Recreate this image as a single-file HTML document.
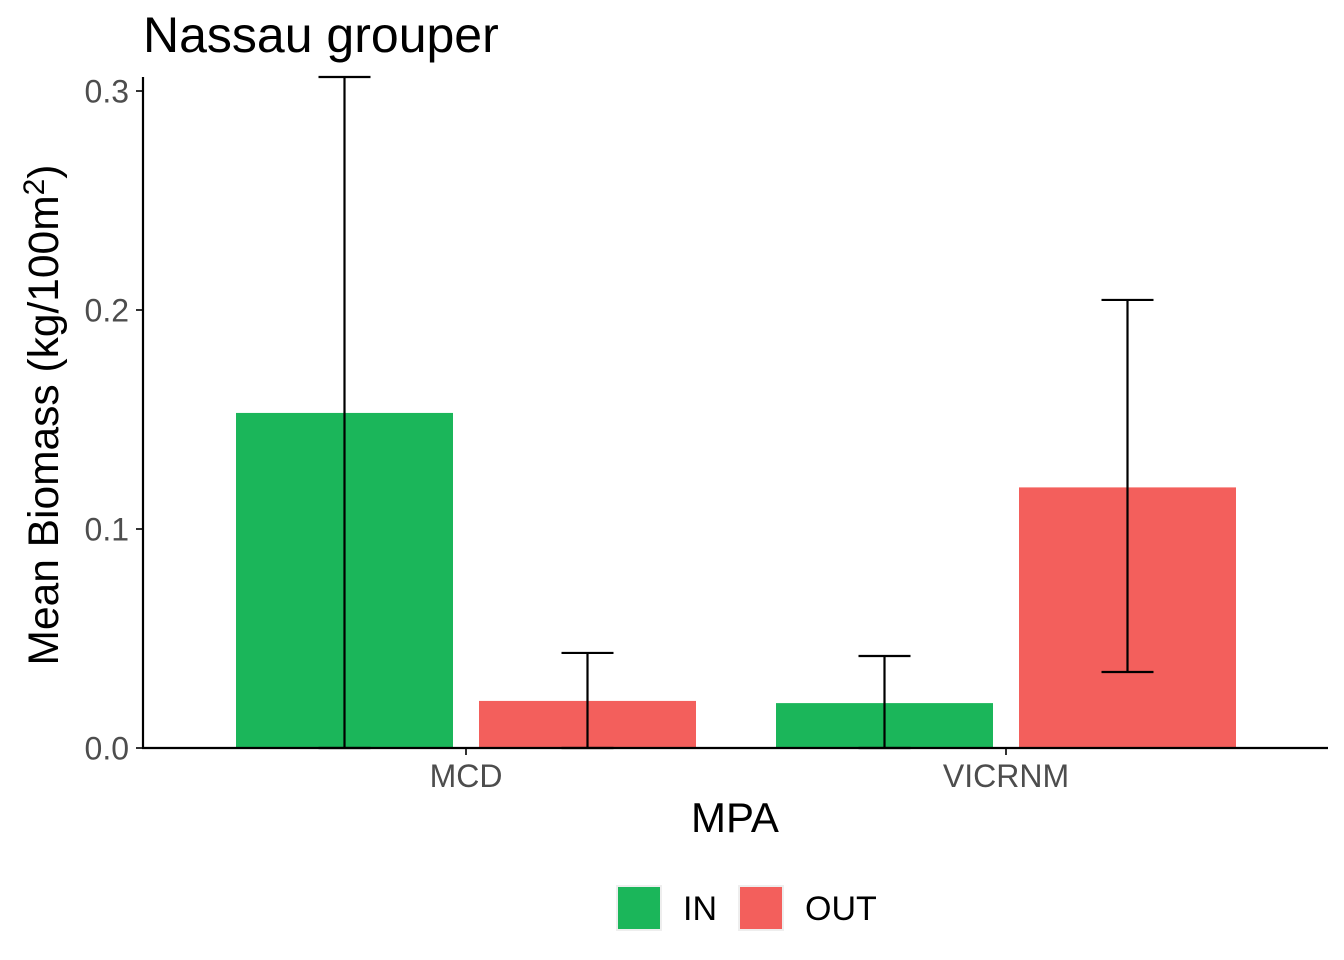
<!DOCTYPE html>
<html><head><meta charset="utf-8"><style>
body{margin:0;background:#fff;}
svg{display:block;font-family:"Liberation Sans",Arial,sans-serif;}
</style></head><body>
<svg id="chart" width="1344" height="960" viewBox="0 0 1344 960" xmlns="http://www.w3.org/2000/svg">
<text x="143" y="52" font-size="50" fill="#000">Nassau grouper</text>
<g id="bars"></g>
<g id="errs"></g>
<g id="axes"></g>
<text transform="translate(58,415) rotate(-90)" text-anchor="middle" font-size="42.5" fill="#000">Mean Biomass (kg/100m<tspan dy="-14" font-size="30">2</tspan><tspan dy="14">)</tspan></text>
<text x="735" y="832" text-anchor="middle" font-size="42" fill="#000">MPA</text>
<g>
<rect x="617" y="886" width="44" height="44" fill="#1BB65A" stroke="#eeeeee" stroke-width="2"/>
<text x="683" y="920" font-size="34">IN</text>
<rect x="739" y="886" width="44" height="44" fill="#F35F5C" stroke="#eeeeee" stroke-width="2"/>
<text x="805" y="920" font-size="34">OUT</text>
</g>
</svg>
<script>
const categories=["MCD","VICRNM"];
const groups=["IN","OUT"];
const inValues=[0.153,0.0205];
const outValues=[0.0215,0.119];
const inUpper=[0.3064,0.042];
const inLower=[0,0];
const outUpper=[0.0434,0.2046];
const outLower=[0,0.0347];
const yTicks=[0,0.1,0.2,0.3];
const yTickLabels=["0.0","0.1","0.2","0.3"];

const NS="http://www.w3.org/2000/svg";
const x0=143,x1=1328,yBase=748,yTop=77,yMax=0.3064;
function y(v){return yBase-(v/yMax)*(yBase-yTop);}
const bandStart=196,bandStep=540;
function xc(i){return bandStart+bandStep*(i+0.5);}
const barW=217,off=121.5;
const colors={IN:"#1BB65A",OUT:"#F35F5C"};
function mk(tag,attrs,parent){const e=document.createElementNS(NS,tag);for(const k in attrs)e.setAttribute(k,attrs[k]);parent.appendChild(e);return e;}
const bars=document.getElementById('bars'),errs=document.getElementById('errs'),axes=document.getElementById('axes');
categories.forEach((c,i)=>{
  groups.forEach((g,j)=>{
    const v=(g==="IN"?inValues:outValues)[i];
    const up=(g==="IN"?inUpper:outUpper)[i], lo=(g==="IN"?inLower:outLower)[i];
    const cx=xc(i)+(j===0?-off:off);
    const r=mk('rect',{x:cx-barW/2,y:y(v),width:barW,height:yBase-y(v),fill:colors[g]},bars);
    
    
    const eg=mk('g',{stroke:"#000","stroke-width":2.2,fill:"none"},errs);
    
    
    mk('line',{x1:cx,x2:cx,y1:y(up),y2:y(lo)},eg);
    mk('line',{x1:cx-26,x2:cx+26,y1:y(up),y2:y(up)},eg);
    mk('line',{x1:cx-26,x2:cx+26,y1:y(lo),y2:y(lo)},eg);
  });
  const t=mk('line',{x1:xc(i),x2:xc(i),y1:yBase,y2:yBase+7,stroke:"#333","stroke-width":2},axes);
  
  
  const l=mk('text',{x:xc(i),y:787,"text-anchor":"middle","font-size":32,fill:"#4d4d4d"},axes);
  l.textContent=c;
  
  
});
yTicks.forEach((v,k)=>{
  const t=mk('line',{x1:x0-7,x2:x0,y1:y(v),y2:y(v),stroke:"#333","stroke-width":2},axes);
  
  
  const l=mk('text',{x:129,y:y(v)+11.5,"text-anchor":"end","font-size":32,fill:"#4d4d4d"},axes);
  l.textContent=yTickLabels[k];
  
  
});
const ya=mk('line',{x1:x0,x2:x0,y1:yTop,y2:yBase+1,stroke:"#000","stroke-width":2.2},axes);


const xa=mk('line',{x1:x0-1,x2:x1,y1:yBase,y2:yBase,stroke:"#000","stroke-width":2.2},axes);


</script>
</body></html>
